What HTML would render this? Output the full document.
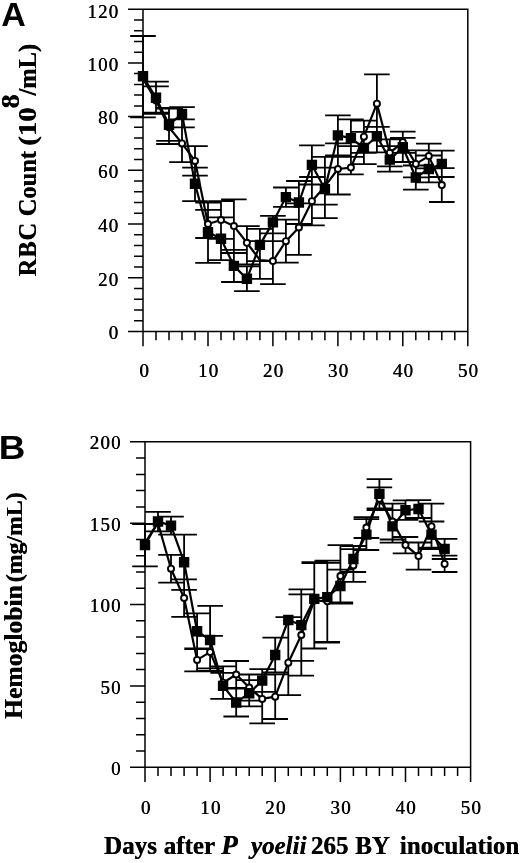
<!DOCTYPE html>
<html><head><meta charset="utf-8"><title>Figure</title>
<style>
html,body{margin:0;padding:0;background:#fff}
svg{display:block}
text{font-family:"Liberation Serif","DejaVu Serif",serif;fill:#000}
.tk text{font-size:19px;letter-spacing:1.2px;text-shadow:0.45px 0 0 #000}
.pl{font-family:"Liberation Sans","DejaVu Sans",sans-serif;font-weight:bold;font-size:32px}
.ax{font-weight:bold;font-size:24.5px;text-shadow:0.35px 0 0 #000}
</style></head><body>
<svg width="520" height="863" viewBox="0 0 520 863">
<rect width="520" height="863" fill="#fff"/>
<path d="M143 331.4V9.2H467.8V331.4ZM143 331.4v14M156 331.4v8M169 331.4v8M182 331.4v8M195 331.4v8M208 331.4v14M221 331.4v8M233.9 331.4v8M246.9 331.4v8M259.9 331.4v8M272.9 331.4v14M285.9 331.4v8M298.9 331.4v8M311.9 331.4v8M324.9 331.4v8M337.9 331.4v14M350.9 331.4v8M363.9 331.4v8M376.9 331.4v8M389.8 331.4v8M402.8 331.4v14M415.8 331.4v8M428.8 331.4v8M441.8 331.4v8M454.8 331.4v8M467.8 331.4v14M143 331.4h-14.2M143 320.7h-8.2M143 309.9h-8.2M143 299.2h-8.2M143 288.4h-8.2M143 277.7h-14.2M143 267h-8.2M143 256.2h-8.2M143 245.5h-8.2M143 234.7h-8.2M143 224h-14.2M143 213.3h-8.2M143 202.5h-8.2M143 191.8h-8.2M143 181h-8.2M143 170.3h-14.2M143 159.6h-8.2M143 148.8h-8.2M143 138.1h-8.2M143 127.3h-8.2M143 116.6h-14.2M143 105.9h-8.2M143 95.1h-8.2M143 84.4h-8.2M143 73.6h-8.2M143 62.9h-14.2M143 52.2h-8.2M143 41.4h-8.2M143 30.7h-8.2M143 19.9h-8.2M143 9.2h-14.2" fill="none" stroke="#000" stroke-width="1.5" stroke-linecap="square"/>
<path d="M143 36V117.4M130.2 36h25.6M130.2 117.4h25.6M156 81.7V113.9M143.2 81.7h25.6M143.2 113.9h25.6M169 108.5V140.8M156.2 108.5h25.6M156.2 140.8h25.6M182 107.2V127.3M169.2 107.2h25.6M169.2 127.3h25.6M195 167.6V201.2M182.2 167.6h25.6M182.2 201.2h25.6M208 202.5V262.9M195.2 202.5h25.6M195.2 262.9h25.6M221 217.3V260.2M208.2 217.3h25.6M208.2 260.2h25.6M233.9 249.8V282M221.1 249.8h25.6M221.1 282h25.6M246.9 266.4V291.1M234.1 266.4h25.6M234.1 291.1h25.6M259.9 228.8V261.1M247.1 228.8h25.6M247.1 261.1h25.6M272.9 215.9V241.2M260.1 215.9h25.6M260.1 241.2h25.6M285.9 187.5V206.8M273.1 187.5h25.6M273.1 206.8h25.6M298.9 181V224M286.1 181h25.6M286.1 224h25.6M311.9 145.3V184.5M299.1 145.3h25.6M299.1 184.5h25.6M324.9 167.6V204.7M312.1 167.6h25.6M312.1 204.7h25.6M337.9 115.3V155.5M325.1 115.3h25.6M325.1 155.5h25.6M350.9 119.3V156.9M338.1 119.3h25.6M338.1 156.9h25.6M363.9 131.9V164.1M351.1 131.9h25.6M351.1 164.1h25.6M376.9 126.8V152.3M364.1 126.8h25.6M364.1 152.3h25.6M389.8 146.1V171.6M377 146.1h25.6M377 171.6h25.6M402.8 137.8V162M390 137.8h25.6M390 162h25.6M415.8 165.5V189.6M403 165.5h25.6M403 189.6h25.6M428.8 155.5V182.4M416 155.5h25.6M416 182.4h25.6M441.8 150.7V177M429 150.7h25.6M429 177h25.6M156 86.3V112.6M143.2 86.3h25.6M143.2 112.6h25.6M169 108V144M156.2 108h25.6M156.2 144h25.6M182 119.3V162.2M169.2 119.3h25.6M169.2 162.2h25.6M195 146.1V175.7M182.2 146.1h25.6M182.2 175.7h25.6M208 209.8V238M195.2 209.8h25.6M195.2 238h25.6M221 201.2V238.8M208.2 201.2h25.6M208.2 238.8h25.6M233.9 199.3V253M221.1 199.3h25.6M221.1 253h25.6M246.9 226.1V264.3M234.1 226.1h25.6M234.1 264.3h25.6M259.9 241.2V278.8M247.1 241.2h25.6M247.1 278.8h25.6M272.9 233.4V284.1M260.1 233.4h25.6M260.1 284.1h25.6M285.9 219.7V262.7M273.1 219.7h25.6M273.1 262.7h25.6M298.9 203.3V254.9M286.1 203.3h25.6M286.1 254.9h25.6M311.9 177V225.3M299.1 177h25.6M299.1 225.3h25.6M324.9 156.9V218.1M312.1 156.9h25.6M312.1 218.1h25.6M337.9 143.4V194.5M325.1 143.4h25.6M325.1 194.5h25.6M350.9 146.1V174.3M338.1 146.1h25.6M338.1 174.3h25.6M363.9 120.6V152.8M351.1 120.6h25.6M351.1 152.8h25.6M376.9 74.4V126.8M364.1 74.4h25.6M364.1 126.8h25.6M389.8 139.4V166.3M377 139.4h25.6M377 166.3h25.6M402.8 131.6V152.8M390 131.6h25.6M390 152.8h25.6M415.8 150.4V177.3M403 150.4h25.6M403 177.3h25.6M428.8 143.7V168.4M416 143.7h25.6M416 168.4h25.6M441.8 168.2V202M429 168.2h25.6M429 202h25.6" fill="none" stroke="#000" stroke-width="1.8"/>
<polyline points="143,76.3 156,97.8 169,124.7 182,113.9 195,183.7 208,232.1 221,238.8 233.9,265.9 246.9,278.8 259.9,244.9 272.9,222.4 285.9,197.1 298.9,202.5 311.9,164.9 324.9,189.1 337.9,135.4 350.9,138.1 363.9,148 376.9,136.2 389.8,159.6 402.8,147.2 415.8,177.5 428.8,169 441.8,163.9" fill="none" stroke="#000" stroke-width="2.2" stroke-linejoin="round"/>
<polyline points="143,79 156,100.5 169,127.3 182,143.4 195,160.9 208,224 221,220 233.9,226.1 246.9,242.8 259.9,260 272.9,261.1 285.9,241.2 298.9,227.5 311.9,201.2 324.9,186.4 337.9,169 350.9,167.6 363.9,136.7 376.9,103.7 389.8,152.8 402.8,142.1 415.8,163.9 428.8,156.1 441.8,185.1" fill="none" stroke="#000" stroke-width="2.2" stroke-linejoin="round"/>
<circle cx="156" cy="100.5" r="3.05" fill="#fff" stroke="#000" stroke-width="1.9"/>
<circle cx="169" cy="127.3" r="3.05" fill="#fff" stroke="#000" stroke-width="1.9"/>
<circle cx="182" cy="143.4" r="3.05" fill="#fff" stroke="#000" stroke-width="1.9"/>
<circle cx="195" cy="160.9" r="3.05" fill="#fff" stroke="#000" stroke-width="1.9"/>
<circle cx="208" cy="224" r="3.05" fill="#fff" stroke="#000" stroke-width="1.9"/>
<circle cx="221" cy="220" r="3.05" fill="#fff" stroke="#000" stroke-width="1.9"/>
<circle cx="233.9" cy="226.1" r="3.05" fill="#fff" stroke="#000" stroke-width="1.9"/>
<circle cx="246.9" cy="242.8" r="3.05" fill="#fff" stroke="#000" stroke-width="1.9"/>
<circle cx="272.9" cy="261.1" r="3.05" fill="#fff" stroke="#000" stroke-width="1.9"/>
<circle cx="285.9" cy="241.2" r="3.05" fill="#fff" stroke="#000" stroke-width="1.9"/>
<circle cx="298.9" cy="227.5" r="3.05" fill="#fff" stroke="#000" stroke-width="1.9"/>
<circle cx="311.9" cy="201.2" r="3.05" fill="#fff" stroke="#000" stroke-width="1.9"/>
<circle cx="324.9" cy="186.4" r="3.05" fill="#fff" stroke="#000" stroke-width="1.9"/>
<circle cx="337.9" cy="169" r="3.05" fill="#fff" stroke="#000" stroke-width="1.9"/>
<circle cx="350.9" cy="167.6" r="3.05" fill="#fff" stroke="#000" stroke-width="1.9"/>
<circle cx="363.9" cy="136.7" r="3.05" fill="#fff" stroke="#000" stroke-width="1.9"/>
<circle cx="376.9" cy="103.7" r="3.05" fill="#fff" stroke="#000" stroke-width="1.9"/>
<circle cx="389.8" cy="152.8" r="3.05" fill="#fff" stroke="#000" stroke-width="1.9"/>
<circle cx="402.8" cy="142.1" r="3.05" fill="#fff" stroke="#000" stroke-width="1.9"/>
<circle cx="415.8" cy="163.9" r="3.05" fill="#fff" stroke="#000" stroke-width="1.9"/>
<circle cx="428.8" cy="156.1" r="3.05" fill="#fff" stroke="#000" stroke-width="1.9"/>
<circle cx="441.8" cy="185.1" r="3.05" fill="#fff" stroke="#000" stroke-width="1.9"/>
<path d="M137.8 71.1h10.4v10.4h-10.4zM150.8 92.6h10.4v10.4h-10.4zM163.8 119.5h10.4v10.4h-10.4zM176.8 108.7h10.4v10.4h-10.4zM189.8 178.5h10.4v10.4h-10.4zM202.8 226.9h10.4v10.4h-10.4zM215.8 233.6h10.4v10.4h-10.4zM228.7 260.7h10.4v10.4h-10.4zM241.7 273.6h10.4v10.4h-10.4zM254.7 239.7h10.4v10.4h-10.4zM267.7 217.2h10.4v10.4h-10.4zM280.7 191.9h10.4v10.4h-10.4zM293.7 197.3h10.4v10.4h-10.4zM306.7 159.7h10.4v10.4h-10.4zM319.7 183.9h10.4v10.4h-10.4zM332.7 130.2h10.4v10.4h-10.4zM345.7 132.9h10.4v10.4h-10.4zM358.7 142.8h10.4v10.4h-10.4zM371.7 131h10.4v10.4h-10.4zM384.6 154.4h10.4v10.4h-10.4zM397.6 142h10.4v10.4h-10.4zM410.6 172.3h10.4v10.4h-10.4zM423.6 163.8h10.4v10.4h-10.4zM436.6 158.7h10.4v10.4h-10.4z" fill="#000"/>
<g class="tk" text-anchor="end">
<text x="119.3" y="339">0</text>
<text x="119.3" y="286">20</text>
<text x="119.3" y="232">40</text>
<text x="119.3" y="178">60</text>
<text x="119.3" y="124">80</text>
<text x="119.3" y="71">100</text>
<text x="119.3" y="18">120</text>
</g>
<g class="tk" text-anchor="middle">
<text x="144.6" y="377">0</text>
<text x="208.6" y="377">10</text>
<text x="273.5" y="377">20</text>
<text x="338.5" y="377">30</text>
<text x="403.4" y="377">40</text>
<text x="468.4" y="377">50</text>
</g>
<path d="M145 767.3V441.8H470.6V767.3ZM145 767.3v14M158 767.3v8M171 767.3v8M184.1 767.3v8M197.1 767.3v8M210.1 767.3v14M223.1 767.3v8M236.2 767.3v8M249.2 767.3v8M262.2 767.3v8M275.2 767.3v14M288.3 767.3v8M301.3 767.3v8M314.3 767.3v8M327.3 767.3v8M340.4 767.3v14M353.4 767.3v8M366.4 767.3v8M379.4 767.3v8M392.5 767.3v8M405.5 767.3v14M418.5 767.3v8M431.5 767.3v8M444.6 767.3v8M457.6 767.3v8M470.6 767.3v14M145 767.3h-14.2M145 751h-8.2M145 734.8h-8.2M145 718.5h-8.2M145 702.2h-8.2M145 685.9h-14.2M145 669.6h-8.2M145 653.4h-8.2M145 637.1h-8.2M145 620.8h-8.2M145 604.5h-14.2M145 588.3h-8.2M145 572h-8.2M145 555.7h-8.2M145 539.5h-8.2M145 523.2h-14.2M145 506.9h-8.2M145 490.6h-8.2M145 474.4h-8.2M145 458.1h-8.2M145 441.8h-14.2" fill="none" stroke="#000" stroke-width="1.5" stroke-linecap="square"/>
<path d="M145 524V566.3M132.2 524h25.6M132.2 566.3h25.6M158 511.8V531.3M145.2 511.8h25.6M145.2 531.3h25.6M171 516.7V534.6M158.2 516.7h25.6M158.2 534.6h25.6M184.1 534.6V589.9M171.3 534.6h25.6M171.3 589.9h25.6M197.1 613.3V649.1M184.3 613.3h25.6M184.3 649.1h25.6M210.1 605.9V671M197.3 605.9h25.6M197.3 671h25.6M223.1 672.9V698.9M210.3 672.9h25.6M210.3 698.9h25.6M236.2 688.5V716.5M223.4 688.5h25.6M223.4 716.5h25.6M249.2 680.2V706.3M236.4 680.2h25.6M236.4 706.3h25.6M262.2 669.2V691.9M249.4 669.2h25.6M249.4 691.9h25.6M275.2 637.6V672.4M262.4 637.6h25.6M262.4 672.4h25.6M301.3 589.3V660.9M288.5 589.3h25.6M288.5 660.9h25.6M314.3 563V648.5M301.5 563h25.6M301.5 648.5h25.6M327.3 562.9V642.5M314.5 562.9h25.6M314.5 642.5h25.6M340.4 569.7V602.3M327.6 569.7h25.6M327.6 602.3h25.6M353.4 546V572M340.6 546h25.6M340.6 572h25.6M366.4 519.1V550M353.6 519.1h25.6M353.6 550h25.6M379.4 479.2V508.5M366.6 479.2h25.6M366.6 508.5h25.6M392.5 510.2V542.7M379.7 510.2h25.6M379.7 542.7h25.6M405.5 500.4V519.9M392.7 500.4h25.6M392.7 519.9h25.6M418.5 500.1V518M405.7 500.1h25.6M405.7 518h25.6M431.5 521.5V547.6M418.7 521.5h25.6M418.7 547.6h25.6M444.6 538.8V559M431.8 538.8h25.6M431.8 559h25.6M158 511.8V531.3M145.2 511.8h25.6M145.2 531.3h25.6M171 554.9V582.6M158.2 554.9h25.6M158.2 582.6h25.6M184.1 579.3V616.8M171.3 579.3h25.6M171.3 616.8h25.6M197.1 648.5V671.3M184.3 648.5h25.6M184.3 671.3h25.6M210.1 635.8V668.3M197.3 635.8h25.6M197.3 668.3h25.6M223.1 666.4V698.9M210.3 666.4h25.6M210.3 698.9h25.6M236.2 661V688M223.4 661h25.6M223.4 688h25.6M249.2 674.5V700.6M236.4 674.5h25.6M236.4 700.6h25.6M262.2 674.5V723.4M249.4 674.5h25.6M249.4 723.4h25.6M275.2 674.4V719M262.4 674.4h25.6M262.4 719h25.6M288.3 617.1V695.2M275.5 617.1h25.6M275.5 695.2h25.6M301.3 594.3V675.7M288.5 594.3h25.6M288.5 675.7h25.6M314.3 562.2V648.5M301.5 562.2h25.6M301.5 648.5h25.6M327.3 560.6V642M314.5 560.6h25.6M314.5 642h25.6M340.4 545.1V603.7M327.6 545.1h25.6M327.6 603.7h25.6M353.4 549.2V581.8M340.6 549.2h25.6M340.6 581.8h25.6M366.4 517.2V538M353.6 517.2h25.6M353.6 538h25.6M379.4 487.4V510.2M366.6 487.4h25.6M366.6 510.2h25.6M392.5 503.6V539.5M379.7 503.6h25.6M379.7 539.5h25.6M405.5 537V553.3M392.7 537h25.6M392.7 553.3h25.6M418.5 542.5V569.6M405.7 542.5h25.6M405.7 569.6h25.6M431.5 503.6V549.2M418.7 503.6h25.6M418.7 549.2h25.6M444.6 555.7V572M431.8 555.7h25.6M431.8 572h25.6" fill="none" stroke="#000" stroke-width="1.8"/>
<polyline points="145,545.1 158,521.5 171,525.6 184.1,562.2 197.1,631.2 210.1,640 223.1,685.9 236.2,702.5 249.2,693.2 262.2,680.6 275.2,655 288.3,620 301.3,625.1 314.3,598.9 327.3,597.1 340.4,586 353.4,559 366.4,534.6 379.4,493.9 392.5,526.4 405.5,510.2 418.5,509 431.5,534.6 444.6,548.9" fill="none" stroke="#000" stroke-width="2.2" stroke-linejoin="round"/>
<polyline points="145,542.7 158,523.2 171,568.7 184.1,598 197.1,659.9 210.1,652.1 223.1,682.7 236.2,674.5 249.2,687.6 262.2,698.9 275.2,696.7 288.3,662.7 301.3,635 314.3,600.5 327.3,601.3 340.4,576.1 353.4,565.5 366.4,527.6 379.4,498.8 392.5,521.5 405.5,545.1 418.5,556.1 431.5,526.4 444.6,563.9" fill="none" stroke="#000" stroke-width="2.2" stroke-linejoin="round"/>
<circle cx="158" cy="523.2" r="3.05" fill="#fff" stroke="#000" stroke-width="1.9"/>
<circle cx="171" cy="568.7" r="3.05" fill="#fff" stroke="#000" stroke-width="1.9"/>
<circle cx="184.1" cy="598" r="3.05" fill="#fff" stroke="#000" stroke-width="1.9"/>
<circle cx="197.1" cy="659.9" r="3.05" fill="#fff" stroke="#000" stroke-width="1.9"/>
<circle cx="210.1" cy="652.1" r="3.05" fill="#fff" stroke="#000" stroke-width="1.9"/>
<circle cx="223.1" cy="682.7" r="3.05" fill="#fff" stroke="#000" stroke-width="1.9"/>
<circle cx="236.2" cy="674.5" r="3.05" fill="#fff" stroke="#000" stroke-width="1.9"/>
<circle cx="249.2" cy="687.6" r="3.05" fill="#fff" stroke="#000" stroke-width="1.9"/>
<circle cx="262.2" cy="698.9" r="3.05" fill="#fff" stroke="#000" stroke-width="1.9"/>
<circle cx="275.2" cy="696.7" r="3.05" fill="#fff" stroke="#000" stroke-width="1.9"/>
<circle cx="288.3" cy="662.7" r="3.05" fill="#fff" stroke="#000" stroke-width="1.9"/>
<circle cx="301.3" cy="635" r="3.05" fill="#fff" stroke="#000" stroke-width="1.9"/>
<circle cx="314.3" cy="600.5" r="3.05" fill="#fff" stroke="#000" stroke-width="1.9"/>
<circle cx="327.3" cy="601.3" r="3.05" fill="#fff" stroke="#000" stroke-width="1.9"/>
<circle cx="340.4" cy="576.1" r="3.05" fill="#fff" stroke="#000" stroke-width="1.9"/>
<circle cx="353.4" cy="565.5" r="3.05" fill="#fff" stroke="#000" stroke-width="1.9"/>
<circle cx="366.4" cy="527.6" r="3.05" fill="#fff" stroke="#000" stroke-width="1.9"/>
<circle cx="379.4" cy="498.8" r="3.05" fill="#fff" stroke="#000" stroke-width="1.9"/>
<circle cx="392.5" cy="521.5" r="3.05" fill="#fff" stroke="#000" stroke-width="1.9"/>
<circle cx="405.5" cy="545.1" r="3.05" fill="#fff" stroke="#000" stroke-width="1.9"/>
<circle cx="418.5" cy="556.1" r="3.05" fill="#fff" stroke="#000" stroke-width="1.9"/>
<circle cx="431.5" cy="526.4" r="3.05" fill="#fff" stroke="#000" stroke-width="1.9"/>
<circle cx="444.6" cy="563.9" r="3.05" fill="#fff" stroke="#000" stroke-width="1.9"/>
<path d="M139.8 539.9h10.4v10.4h-10.4zM152.8 516.3h10.4v10.4h-10.4zM165.8 520.4h10.4v10.4h-10.4zM178.9 557h10.4v10.4h-10.4zM191.9 626h10.4v10.4h-10.4zM204.9 634.8h10.4v10.4h-10.4zM217.9 680.7h10.4v10.4h-10.4zM231 697.3h10.4v10.4h-10.4zM244 688h10.4v10.4h-10.4zM257 675.4h10.4v10.4h-10.4zM270 649.8h10.4v10.4h-10.4zM283.1 614.8h10.4v10.4h-10.4zM296.1 619.9h10.4v10.4h-10.4zM309.1 593.7h10.4v10.4h-10.4zM322.1 591.9h10.4v10.4h-10.4zM335.2 580.8h10.4v10.4h-10.4zM348.2 553.8h10.4v10.4h-10.4zM361.2 529.4h10.4v10.4h-10.4zM374.2 488.7h10.4v10.4h-10.4zM387.3 521.2h10.4v10.4h-10.4zM400.3 505h10.4v10.4h-10.4zM413.3 503.8h10.4v10.4h-10.4zM426.3 529.4h10.4v10.4h-10.4zM439.4 543.7h10.4v10.4h-10.4z" fill="#000"/>
<g class="tk" text-anchor="end">
<text x="121.6" y="775">0</text>
<text x="121.6" y="694">50</text>
<text x="121.6" y="612">100</text>
<text x="121.6" y="531">150</text>
<text x="121.6" y="449">200</text>
</g>
<g class="tk" text-anchor="middle">
<text x="146.1" y="814">0</text>
<text x="210.7" y="814">10</text>
<text x="275.8" y="814">20</text>
<text x="341" y="814">30</text>
<text x="406.1" y="814">40</text>
<text x="471.2" y="814">50</text>
</g>
<text class="pl" x="1.2" y="25.8" style="font-size:34px">A</text>
<text class="pl" transform="translate(-1.2 458.9) scale(1.1 1)" style="font-size:33.5px">B</text>
<g class="ax" transform="translate(36.3 276.5) rotate(-90)"><text x="0" y="0"><tspan letter-spacing="0.9">RBC</tspan> <tspan dx="-0.5">Count</tspan></text><text transform="translate(130.6 0) scale(1.18 1)">(10</text><text transform="translate(168 -17.8) scale(1.15 1)">8</text><text x="180.8" y="0">/mL)</text></g>
<g class="ax" transform="translate(21.7 719) rotate(-90)"><text x="0" y="0" style="font-size:25.6px">Hemoglobin</text><text x="226.5" y="0" text-anchor="end" style="font-size:23.8px">(mg/mL)</text></g>
<text class="ax" x="104" y="854.2" style="font-size:25px">Days <tspan dx="0.55">after</tspan> <tspan dx="0.3" font-style="italic" font-size="27">P</tspan> <tspan dx="7" font-style="italic">yoelii</tspan> <tspan dx="-1.8">265</tspan> <tspan dx="0.5">BY</tspan> <tspan dx="4.6">inoculation</tspan></text>
</svg>
</body></html>
